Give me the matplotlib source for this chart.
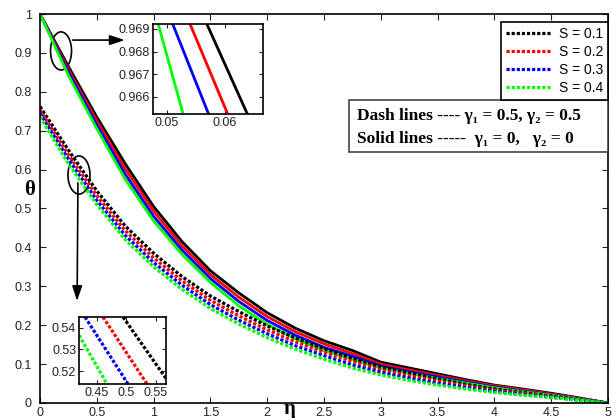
import matplotlib
matplotlib.use("Agg")
import matplotlib.pyplot as plt
from matplotlib.patches import Ellipse, Rectangle
import numpy as np

# eta grid
eta = [0.0, 0.25, 0.5, 0.75, 1.0, 1.25, 1.5, 1.75, 2.0, 2.25, 2.5,
       2.75, 3.0, 3.25, 3.5, 3.75, 4.0, 4.25, 4.5, 4.75, 5.0]

s_labels = ["S = 0.1", "S = 0.2", "S = 0.3", "S = 0.4"]
colors = ["black", "red", "blue", "#00ff00"]

# solid lines: gamma1 = 0, gamma2 = 0
solid_s1 = [1.0, 0.865, 0.735, 0.615, 0.505, 0.415, 0.34, 0.283, 0.232, 0.192, 0.16,
            0.135, 0.105, 0.09, 0.075, 0.06, 0.046, 0.036, 0.025, 0.013, 0.0]
solid_s2 = [1.0, 0.857, 0.725, 0.602, 0.493, 0.404, 0.33, 0.272, 0.222, 0.183, 0.152,
            0.127, 0.1, 0.085, 0.071, 0.057, 0.044, 0.034, 0.023, 0.012, 0.0]
solid_s3 = [1.0, 0.85, 0.715, 0.588, 0.48, 0.393, 0.32, 0.261, 0.212, 0.174, 0.143,
            0.12, 0.095, 0.08, 0.067, 0.054, 0.041, 0.031, 0.021, 0.011, 0.0]
solid_s4 = [1.0, 0.842, 0.705, 0.575, 0.468, 0.382, 0.31, 0.25, 0.202, 0.165, 0.135,
            0.112, 0.09, 0.076, 0.063, 0.051, 0.039, 0.029, 0.02, 0.01, 0.0]

# dotted lines: gamma1 = 0.5, gamma2 = 0.5
dash_s1 = [0.762, 0.65, 0.545, 0.455, 0.385, 0.325, 0.275, 0.235, 0.198, 0.167, 0.14,
           0.115, 0.093, 0.077, 0.062, 0.048, 0.036, 0.027, 0.018, 0.009, 0.0]
dash_s2 = [0.753, 0.638, 0.533, 0.443, 0.373, 0.314, 0.264, 0.224, 0.188, 0.157, 0.131,
           0.107, 0.086, 0.071, 0.057, 0.044, 0.033, 0.025, 0.017, 0.008, 0.0]
dash_s3 = [0.745, 0.627, 0.521, 0.431, 0.361, 0.303, 0.253, 0.213, 0.178, 0.147, 0.122,
           0.098, 0.079, 0.064, 0.051, 0.04, 0.03, 0.022, 0.015, 0.007, 0.0]
dash_s4 = [0.735, 0.615, 0.51, 0.42, 0.35, 0.292, 0.243, 0.203, 0.168, 0.138, 0.113,
           0.09, 0.072, 0.058, 0.046, 0.036, 0.027, 0.02, 0.014, 0.007, 0.0]

# zoom near eta = 0.05 (solid lines)
zoom1_eta = [[0.0569, 0.0639], [0.0540, 0.0605], [0.0510, 0.0572], [0.0485, 0.0528]]
zoom1_theta = [0.96922, 0.96525]
# zoom near eta = 0.5 (dotted lines)
zoom2_eta = [[0.4941, 0.5670], [0.4602, 0.5348], [0.4297, 0.5026], [0.4195, 0.4670]]
zoom2_theta = [[0.545, 0.5166], [0.545, 0.514], [0.545, 0.514], [0.5366, 0.514]]

solid = [solid_s1, solid_s2, solid_s3, solid_s4]
dashed = [dash_s1, dash_s2, dash_s3, dash_s4]

plt.rcParams['font.family'] = ['Liberation Sans', 'DejaVu Sans']
serif = ['Liberation Serif', 'DejaVu Serif']

fig = plt.figure(figsize=(6.13, 4.18), dpi=100)
ax = fig.add_axes([0.0653, 0.0359, 0.9265, 0.9306])

for ys, c in zip(solid, colors):
    ax.plot(eta, ys, color=c, lw=2.0)
handles = []
for ys, c, lab in zip(dashed, colors, s_labels):
    h, = ax.plot(eta, ys, color=c, lw=2.3, ls=(0, (1, 0.6)), label=lab)
    handles.append(h)

ax.set_xlim(0, 5)
ax.set_ylim(0, 1)
ax.set_xticks(np.arange(0, 5.01, 0.5))
ax.set_xticklabels(["0", "0.5", "1", "1.5", "2", "2.5", "3", "3.5", "4", "4.5", "5"])
ax.set_yticks(np.arange(0, 1.01, 0.1))
ax.set_yticklabels(["0", "0.1", "0.2", "0.3", "0.4", "0.5", "0.6", "0.7", "0.8", "0.9", "1"])
ax.tick_params(direction='in', top=True, right=True, length=4, width=0.8,
               labelsize=9, colors='#222222')
ax.tick_params(axis='y', pad=6)
ax.tick_params(axis='x', pad=3)
for sp in ax.spines.values():
    sp.set_linewidth(1.2)

leg = ax.legend(handles=handles, loc='upper right', bbox_to_anchor=(1.0, 0.98),
                fancybox=False, framealpha=1, edgecolor='black', fontsize=10,
                handlelength=3.3, handletextpad=0.5, borderpad=0.35,
                labelspacing=0.3, borderaxespad=0.0)
leg.get_frame().set_linewidth(1.2)

# info box
ax.add_patch(Rectangle((0.544, 0.645), 0.456, 0.134, transform=ax.transAxes,
                       fc='white', ec='#444444', lw=1.2, zorder=4))
ax.text(0.558, 0.738, "Dash lines ---- γ\u2081 = 0.5, γ\u2082 = 0.5",
        transform=ax.transAxes, ha='left', va='center', fontsize=12.5,
        fontweight='bold', family=serif, zorder=5)
ax.text(0.558, 0.679, "Solid lines -----  γ\u2081 = 0,   γ\u2082 = 0",
        transform=ax.transAxes, ha='left', va='center', fontsize=12.5,
        fontweight='bold', family=serif, zorder=5)

# ellipses and arrows
ax.add_patch(Ellipse((0.185, 0.905), 0.185, 0.098, fill=False, ec='black', lw=1.2))
ax.add_patch(Ellipse((0.343, 0.586), 0.194, 0.098, fill=False, ec='black', lw=1.2))
ax.annotate("", xy=(0.77, 0.933), xytext=(0.264, 0.933),
            arrowprops=dict(arrowstyle='-|>,head_length=0.9,head_width=0.3', color='black', lw=1.2))
ax.annotate("", xy=(0.326, 0.255), xytext=(0.334, 0.573),
            arrowprops=dict(arrowstyle='-|>,head_length=0.9,head_width=0.3', color='black', lw=1.2))

fig.text(0.049, 0.545, "θ", fontsize=15, fontweight='bold', ha='center', va='center',
         family=serif)
fig.text(0.473, 0.009, "η", fontsize=15, fontweight='bold', ha='center', va='baseline',
         family=serif)

# inset 1
ins1 = fig.add_axes([0.2496, 0.7273, 0.1794, 0.2153])
for xs, c in zip(zoom1_eta, colors):
    ins1.plot(xs, zoom1_theta, color=c, lw=2.0)
ins1.set_xlim(0.0476, 0.0666)
ins1.set_ylim(0.96525, 0.96922)
ins1.set_xticks([0.05, 0.06])
ins1.set_xticklabels(["0.05", "0.06"])
ins1.set_yticks([0.966, 0.967, 0.968, 0.969])
ins1.set_yticklabels(["0.966", "0.967", "0.968", "0.969"])
ins1.tick_params(direction='in', top=True, right=True, length=3, labelsize=9,
                 colors='#222222', pad=2)
for sp in ins1.spines.values():
    sp.set_linewidth(1.2)

# inset 2
ins2 = fig.add_axes([0.1289, 0.0813, 0.1419, 0.1603])
for xs, ys, c in zip(zoom2_eta, zoom2_theta, colors):
    ins2.plot(xs, ys, color=c, lw=2.3, ls=(0, (1, 0.6)))
ins2.set_xlim(0.4195, 0.567)
ins2.set_ylim(0.514, 0.545)
ins2.set_xticks([0.45, 0.5, 0.55])
ins2.set_xticklabels(["0.45", "0.5", "0.55"])
ins2.set_yticks([0.52, 0.53, 0.54])
ins2.set_yticklabels(["0.52", "0.53", "0.54"])
ins2.tick_params(direction='in', top=True, right=True, length=3, labelsize=9,
                 colors='#222222', pad=2)
for sp in ins2.spines.values():
    sp.set_linewidth(1.2)

fig.savefig("out.png", dpi=100)
